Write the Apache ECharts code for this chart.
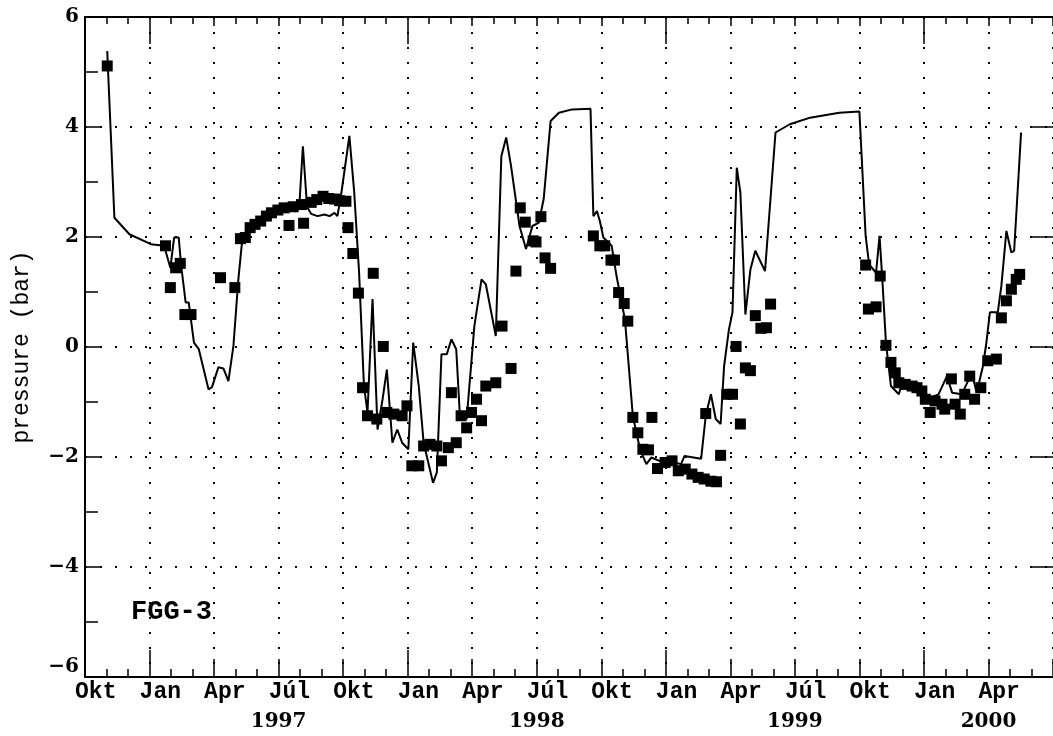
<!DOCTYPE html>
<html>
<head>
<meta charset="utf-8">
<script src="https://cdn.jsdelivr.net/npm/echarts@6.0.0/dist/echarts.min.js"></script>
<style>
  html, body { margin: 0; padding: 0; background: #fff; }
  #chart { width: 1053px; height: 736px; }
</style>
</head>
<body>
<div id="chart"></div>
<script>
// Modelled pore pressure (continuous line), well FGG-3
const modelDates = [
  '1996-11-02','1996-11-12','1996-12-03','1997-01-03','1997-01-22','1997-01-31','1997-02-05','1997-02-11',
  '1997-02-14','1997-02-20','1997-02-24','1997-03-03','1997-03-10','1997-03-24','1997-03-29','1997-04-07',
  '1997-04-14','1997-04-21','1997-04-28','1997-05-05','1997-05-10','1997-05-15','1997-05-24','1997-06-12',
  '1997-06-30','1997-07-26','1997-07-31','1997-08-05','1997-08-11','1997-08-17','1997-08-26','1997-09-05',
  '1997-09-12','1997-09-19','1997-09-23','1997-09-28','1997-10-10','1997-10-17','1997-10-24','1997-10-31',
  '1997-11-05','1997-11-12','1997-11-19','1997-11-26','1997-12-02','1997-12-10','1997-12-17','1997-12-24',
  '1998-01-02','1998-01-09','1998-01-17','1998-01-24','1998-02-06','1998-02-11','1998-02-17','1998-02-24',
  '1998-03-02','1998-03-09','1998-03-14','1998-03-24','1998-04-04','1998-04-14','1998-04-20','1998-05-04',
  '1998-05-12','1998-05-19','1998-05-26','1998-06-07','1998-06-16','1998-06-25','1998-07-04','1998-07-11',
  '1998-07-21','1998-08-02','1998-08-21','1998-09-16','1998-09-20','1998-09-25','1998-09-29','1998-10-04',
  '1998-10-16','1998-10-23','1998-11-04','1998-11-15','1998-11-25','1998-12-04','1998-12-11','1998-12-23',
  '1999-01-13','1999-01-23','1999-01-28','1999-02-19','1999-02-25','1999-03-04','1999-03-11','1999-03-18',
  '1999-03-23','1999-03-30','1999-04-04','1999-04-10','1999-04-15','1999-04-22','1999-04-29','1999-05-06',
  '1999-05-20','1999-06-04','1999-06-24','1999-07-23','1999-09-03','1999-10-01','1999-10-10','1999-10-15',
  '1999-10-25','1999-10-30','1999-11-03','1999-11-08','1999-11-15','1999-11-26','1999-11-30','1999-12-25',
  '2000-01-05','2000-01-22','2000-02-03','2000-02-10','2000-02-23','2000-03-08','2000-03-15','2000-03-24',
  '2000-03-29','2000-04-03','2000-04-14','2000-04-19','2000-04-26','2000-05-03','2000-05-07','2000-05-17'
];
const modelValues = [
  5.38, 2.35, 2.05, 1.87, 1.84, 1.44, 1.99, 1.99,
  1.50, 0.81, 0.81, 0.08, -0.04, -0.77, -0.73, -0.37,
  -0.39, -0.62, 0.02, 1.23, 1.87, 2.08, 2.26, 2.41,
  2.50, 2.47, 2.60, 3.65, 2.55, 2.42, 2.38, 2.41,
  2.38, 2.44, 2.38, 2.75, 3.84, 2.81, 1.35, -0.71,
  -1.19, 0.87, -1.50, -0.95, -0.41, -1.74, -1.50, -1.74,
  -1.86, 0.08, -0.71, -1.74, -2.47, -2.28, -0.13, -0.13,
  0.14, -0.04, -1.19, -1.31, 0.38, 1.23, 1.14, 0.20,
  3.47, 3.81, 3.29, 2.20, 1.78, 2.20, 2.26, 2.69,
  4.11, 4.26, 4.32, 4.33, 2.38, 2.47, 2.29, 1.99,
  1.84, 1.29, 0.50, -1.25, -1.86, -2.13, -2.01, -2.07,
  -2.10, -2.13, -1.98, -2.03, -1.25, -0.86, -1.31, -1.40,
  -0.35, 0.32, 0.63, 3.26, 2.81, 0.59, 1.41, 1.75,
  1.38, 3.90, 4.05, 4.17, 4.26, 4.28, 2.02, 1.50,
  1.35, 2.02, 1.23, 0.08, -0.71, -0.86, -0.68, -0.77,
  -0.95, -0.86, -0.53, -0.83, -0.86, -0.47, -0.83, -0.35,
  0.08, 0.63, 0.63, 1.11, 2.11, 1.72, 1.75, 3.90
];

// Measured pore pressure (filled squares)
const measuredDates = [
  '1996-11-02','1997-01-24','1997-01-31','1997-02-07','1997-02-13','1997-02-19','1997-02-27','1997-04-10',
  '1997-04-30','1997-05-08','1997-05-15','1997-05-22','1997-05-29','1997-06-06','1997-06-14','1997-06-21',
  '1997-06-30','1997-07-09','1997-07-16','1997-07-22','1997-08-03','1997-08-06','1997-08-17','1997-08-25',
  '1997-09-03','1997-09-11','1997-09-19','1997-09-26','1997-10-05','1997-10-08','1997-10-15','1997-10-23',
  '1997-10-29','1997-11-05','1997-11-13','1997-11-18','1997-11-27','1997-12-02','1997-12-12','1997-12-24',
  '1997-12-31','1998-01-07','1998-01-17','1998-01-24','1998-02-02','1998-02-11','1998-02-17','1998-02-26',
  '1998-03-02','1998-03-09','1998-03-16','1998-03-24','1998-03-31','1998-04-07','1998-04-14','1998-04-20',
  '1998-05-04','1998-05-13','1998-05-26','1998-06-02','1998-06-08','1998-06-15','1998-06-26','1998-06-30',
  '1998-07-07','1998-07-13','1998-07-21','1998-09-20','1998-09-29','1998-10-06','1998-10-15','1998-10-20',
  '1998-10-26','1998-11-03','1998-11-08','1998-11-15','1998-11-22','1998-11-29','1998-12-07','1998-12-12',
  '1998-12-20','1998-12-31','1999-01-10','1999-01-19','1999-01-29','1999-02-07','1999-02-15','1999-02-23',
  '1999-02-25','1999-03-04','1999-03-12','1999-03-18','1999-03-27','1999-04-04','1999-04-09','1999-04-15',
  '1999-04-22','1999-04-29','1999-05-06','1999-05-14','1999-05-22','1999-05-28','1999-10-10','1999-10-14',
  '1999-10-25','1999-10-31','1999-11-08','1999-11-15','1999-11-21','1999-11-26','1999-12-05','1999-12-15',
  '1999-12-22','1999-12-29','2000-01-03','2000-01-10','2000-01-17','2000-01-27','2000-01-31','2000-02-09',
  '2000-02-14','2000-02-21','2000-02-27','2000-03-05','2000-03-12','2000-03-21','2000-03-31','2000-04-12',
  '2000-04-19','2000-04-26','2000-05-03','2000-05-10','2000-05-15'
];
const measuredValues = [
  5.11, 1.84, 1.08, 1.44, 1.52, 0.59, 0.59, 1.26,
  1.08, 1.97, 1.99, 2.17, 2.23, 2.29, 2.38, 2.44,
  2.49, 2.53, 2.21, 2.55, 2.59, 2.25, 2.63, 2.68,
  2.74, 2.70, 2.69, 2.66, 2.65, 2.17, 1.70, 0.98,
  -0.74, -1.25, 1.34, -1.31, 0.01, -1.19, -1.22, -1.25,
  -1.07, -2.16, -2.16, -1.80, -1.77, -1.80, -2.07, -1.83,
  -0.83, -1.74, -1.25, -1.47, -1.19, -0.95, -1.34, -0.71,
  -0.65, 0.38, -0.39, 1.38, 2.53, 2.27, 1.93, 1.91,
  2.37, 1.62, 1.43, 2.02, 1.84, 1.84, 1.58, 1.58,
  0.99, 0.79, 0.47, -1.28, -1.56, -1.86, -1.87, -1.28,
  -2.21, -2.10, -2.07, -2.25, -2.22, -2.31, -2.37, -2.40,
  -1.21, -2.44, -2.45, -1.97, -0.86, -0.86, 0.01, -1.40,
  -0.38, -0.43, 0.57, 0.34, 0.35, 0.78, 1.49, 0.69,
  0.73, 1.29, 0.03, -0.28, -0.47, -0.65, -0.68, -0.71,
  -0.74, -0.80, -0.95, -1.19, -0.98, -1.04, -1.13, -0.58,
  -1.04, -1.22, -0.86, -0.53, -0.95, -0.74, -0.25, -0.22,
  0.53, 0.84, 1.05, 1.23, 1.32
];

// Axis labelling
const quarterLabels = ['Okt', 'Jan', 'Apr', 'Júl'];
const yearLabels = ['1997', '1998', '1999', '2000'];
const yearLabelDates = ['1997-07-01', '1998-07-01', '1999-07-01', '2000-04-01'];
const januaryDates = ['1997-01-01', '1998-01-01', '1999-01-01', '2000-01-01'];
const wellName = 'FGG-3';

// Time is measured in months from 1 October 1996 so that every month
// occupies the same width on the axis.
function monthPos(s) {
  const [y, m, d] = s.split('-').map(Number);
  const daysInMonth = new Date(Date.UTC(y, m, 0)).getUTCDate();
  return (y - 1996) * 12 + (m - 10) + (d - 1) / daysInMonth;
}

const X_MIN = 0, X_MAX = 45;
const modelData = modelDates.map((d, i) => [monthPos(d), modelValues[i]]);
const measuredData = measuredDates.map((d, i) => [monthPos(d), measuredValues[i]]);
const quarterMids = [];
for (let q = 0; q * 3 + 0.5 < 44; q++) quarterMids.push(q * 3 + 0.5);
const yearPos = yearLabelDates.map(monthPos);
const janPos = januaryDates.map(monthPos);

const INK = '#000';
const MONO = '"Liberation Mono", "DejaVu Sans Mono", monospace';
const SERIF = '"DejaVu Serif", "Liberation Serif", serif';
const dotted = { color: INK, width: 2, type: [2, 13] };

function minus(v) { return v < 0 ? '\u2212' + Math.abs(v) : String(v); }

const baseX = { type: 'value', min: X_MIN, max: X_MAX, gridIndex: 0 };

const chart = echarts.init(document.getElementById('chart'), null, { renderer: 'canvas' });
chart.setOption({
  animation: false,
  backgroundColor: '#fff',
  grid: { left: 85, right: -9, top: 17, bottom: 59, containLabel: false },
  xAxis: [
    // quarterly ticks, monthly minor ticks and dotted vertical grid
    Object.assign({}, baseX, {
      position: 'bottom', interval: 3,
      axisLine: { show: true, onZero: false, lineStyle: { color: INK, width: 2 } },
      axisTick: { show: true, inside: true, length: 18, lineStyle: { color: INK, width: 1.5 } },
      minorTick: { show: true, splitNumber: 3, length: 8, lineStyle: { color: INK, width: 1.5 } },
      splitLine: { show: true, lineStyle: dotted },
      axisLabel: { show: false }
    }),
    // longer January ticks and month names
    Object.assign({}, baseX, {
      position: 'bottom',
      axisLine: { show: false, onZero: false },
      axisTick: { show: true, inside: true, length: 27, customValues: janPos, lineStyle: { color: INK, width: 1.5 } },
      splitLine: { show: false },
      axisLabel: {
        show: true, customValues: quarterMids, margin: 4,
        color: INK, fontFamily: MONO, fontWeight: 'bold', fontSize: 23,
        formatter: v => quarterLabels[Math.floor(v / 3) % 4]
      }
    }),
    // year labels
    Object.assign({}, baseX, {
      position: 'bottom',
      axisLine: { show: false, onZero: false }, axisTick: { show: false }, splitLine: { show: false },
      axisLabel: {
        show: true, customValues: yearPos, margin: 35,
        color: INK, fontFamily: SERIF, fontWeight: 'bold', fontSize: 20,
        formatter: v => {
          const i = yearPos.findIndex(p => Math.abs(p - v) < 1e-6);
          return i >= 0 ? yearLabels[i] : '';
        }
      }
    }),
    // top frame with mirrored ticks
    Object.assign({}, baseX, {
      position: 'top', interval: 3,
      axisLine: { show: true, onZero: false, lineStyle: { color: INK, width: 2 } },
      axisTick: { show: true, inside: true, length: 9, lineStyle: { color: INK, width: 1.5 } },
      minorTick: { show: true, splitNumber: 3, length: 7, lineStyle: { color: INK, width: 1.5 } },
      splitLine: { show: false }, axisLabel: { show: false }
    }),
    Object.assign({}, baseX, {
      position: 'top',
      axisLine: { show: false, onZero: false },
      axisTick: { show: true, inside: true, length: 27, customValues: janPos, lineStyle: { color: INK, width: 1.5 } },
      splitLine: { show: false }, axisLabel: { show: false }
    })
  ],
  yAxis: [
    {
      type: 'value', position: 'left', min: -6, max: 6, interval: 2,
      name: 'pressure (bar)', nameLocation: 'middle', nameGap: 52,
      nameTextStyle: { color: INK, fontFamily: MONO, fontSize: 23 },
      axisLine: { show: true, onZero: false, lineStyle: { color: INK, width: 2 } },
      axisTick: { show: true, inside: true, length: 15, lineStyle: { color: INK, width: 1.5 } },
      minorTick: { show: true, splitNumber: 2, length: 13, lineStyle: { color: INK, width: 1.5 } },
      splitLine: { show: true, lineStyle: dotted },
      axisLabel: {
        color: INK, fontFamily: SERIF, fontWeight: 'bold', fontSize: 20, margin: 6,
        formatter: v => v === -6 ? '{low|' + minus(v) + '}' : minus(v),
        rich: { low: { fontFamily: SERIF, fontWeight: 'bold', fontSize: 20, color: INK, padding: [0, 0, 20, 0] } }
      }
    },
    {
      type: 'value', position: 'right', min: -6, max: 6, interval: 2,
      axisLine: { show: false, onZero: false },
      axisTick: { show: true, inside: true, length: 22, lineStyle: { color: INK, width: 1.5 } },
      splitLine: { show: false }, axisLabel: { show: false }
    }
  ],
  graphic: [{
    type: 'text', left: 131, top: 599, silent: true,
    style: { text: wellName, fill: INK, font: 'bold 27px ' + MONO }
  }],
  series: [
    {
      name: 'model', type: 'line', xAxisIndex: 0, yAxisIndex: 0,
      data: modelData, showSymbol: false, smooth: false,
      lineStyle: { color: INK, width: 2 }, z: 3
    },
    {
      name: 'measured', type: 'scatter', xAxisIndex: 0, yAxisIndex: 0,
      data: measuredData, symbol: 'rect', symbolSize: 11,
      itemStyle: { color: INK, opacity: 1 }, z: 4
    }
  ]
});
</script>
</body>
</html>
